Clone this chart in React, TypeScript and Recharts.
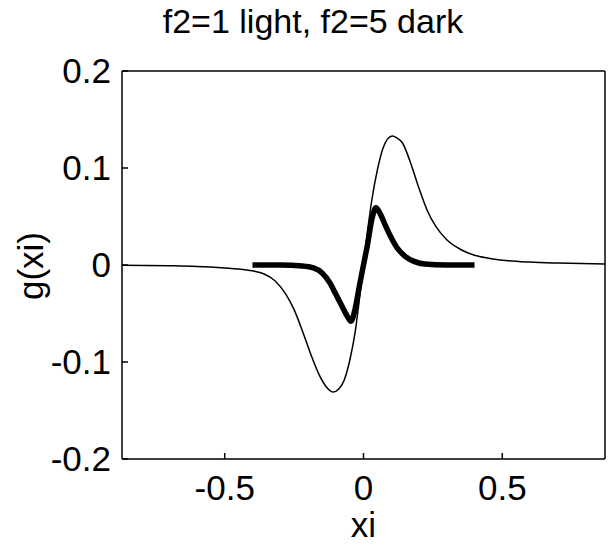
import { LineChart, Line, XAxis, YAxis } from 'recharts'

// f2 = 1 (thin curve)
const lightXi = [-0.87, -0.7, -0.6, -0.5, -0.45, -0.4, -0.36, -0.32, -0.28, -0.25, -0.22, -0.19, -0.16, -0.13, -0.11, -0.09, -0.07, -0.05, -0.03, -0.015, 0, 0.015, 0.03, 0.05, 0.07, 0.09, 0.105, 0.12, 0.14, 0.17, 0.2, 0.23, 0.26, 0.3, 0.35, 0.4, 0.45, 0.5, 0.6, 0.7, 0.87]
const lightG = [-0.0003, -0.0008, -0.0015, -0.003, -0.004, -0.006, -0.009, -0.016, -0.03, -0.046, -0.068, -0.092, -0.113, -0.127, -0.131, -0.128, -0.119, -0.099, -0.069, -0.036, 0, 0.036, 0.067, 0.098, 0.12, 0.131, 0.133, 0.131, 0.126, 0.105, 0.079, 0.056, 0.04, 0.026, 0.016, 0.01, 0.007, 0.005, 0.003, 0.002, 0.001]

// f2 = 5 (thick curve)
const darkXi = [-0.4, -0.3, -0.22, -0.18, -0.15, -0.12, -0.1, -0.08, -0.06, -0.045, -0.03, -0.015, 0, 0.015, 0.03, 0.045, 0.06, 0.08, 0.1, 0.12, 0.15, 0.18, 0.22, 0.3, 0.4]
const darkG = [0, 0, -0.001, -0.003, -0.008, -0.019, -0.03, -0.041, -0.052, -0.058, -0.045, -0.022, 0, 0.022, 0.047, 0.059, 0.053, 0.04, 0.028, 0.018, 0.009, 0.004, 0.001, 0, 0]

const xTicks = [-0.5, 0, 0.5]
const yTicks = [-0.2, -0.1, 0, 0.1, 0.2]
const xDomain = [-0.87, 0.87]
const yDomain = [-0.2, 0.2]

const light = lightXi.map((xi, i) => ({ xi, g: lightG[i] }))
const dark = darkXi.map((xi, i) => ({ xi, g: darkG[i] }))

const FONT = '"Liberation Sans", Arial, Helvetica, sans-serif'
const tickStyle = { fill: '#000', fontSize: 35, fontFamily: FONT }
const frame = { stroke: '#000', strokeWidth: 1.5 }
const tickMark = { stroke: '#000', strokeWidth: 1.5 }

export default function App() {
  return (
    <div style={{ position: 'absolute', left: 0, top: 0, width: 611, height: 546, background: '#fff', fontFamily: FONT }}>
      <div style={{ position: 'absolute', left: 0, width: 626, top: 2, textAlign: 'center', fontSize: 34, color: '#000' }}>
        f2=1 light, f2=5 dark
      </div>
      <LineChart width={611} height={546} margin={{ top: 71, right: 6, bottom: 0, left: 0 }}>
        <XAxis type="number" dataKey="xi" domain={xDomain} ticks={xTicks} allowDataOverflow
          height={87} tickSize={-6} tickMargin={22} tickLine={tickMark} axisLine={frame} tick={tickStyle}
          label={{ value: 'xi', position: 'insideBottom', offset: 9, fill: '#000', fontSize: 35, fontFamily: FONT }} />
        <XAxis xAxisId="top" orientation="top" type="number" domain={xDomain} ticks={xTicks} allowDataOverflow
          mirror tick={false} tickSize={6} tickLine={tickMark} axisLine={frame} />
        <YAxis type="number" domain={yDomain} ticks={yTicks} allowDataOverflow
          width={122} tickSize={-6} tickMargin={17} tickLine={tickMark} axisLine={frame} tick={tickStyle}
          label={{
            content: () => (
              <text transform="translate(43,266) rotate(-90)" textAnchor="middle" fill="#000" fontSize={35} fontFamily={FONT}>g(xi)</text>
            ),
          }} />
        <YAxis yAxisId="right" orientation="right" type="number" domain={yDomain} ticks={yTicks} allowDataOverflow
          mirror tick={false} tickSize={6} tickLine={tickMark} axisLine={frame} />
        <Line data={light} dataKey="g" type="monotone" stroke="#000" strokeWidth={1.5} dot={false} isAnimationActive={false} />
        <Line data={dark} dataKey="g" type="monotone" stroke="#000" strokeWidth={5.5} dot={false} isAnimationActive={false} />
      </LineChart>
    </div>
  )
}
